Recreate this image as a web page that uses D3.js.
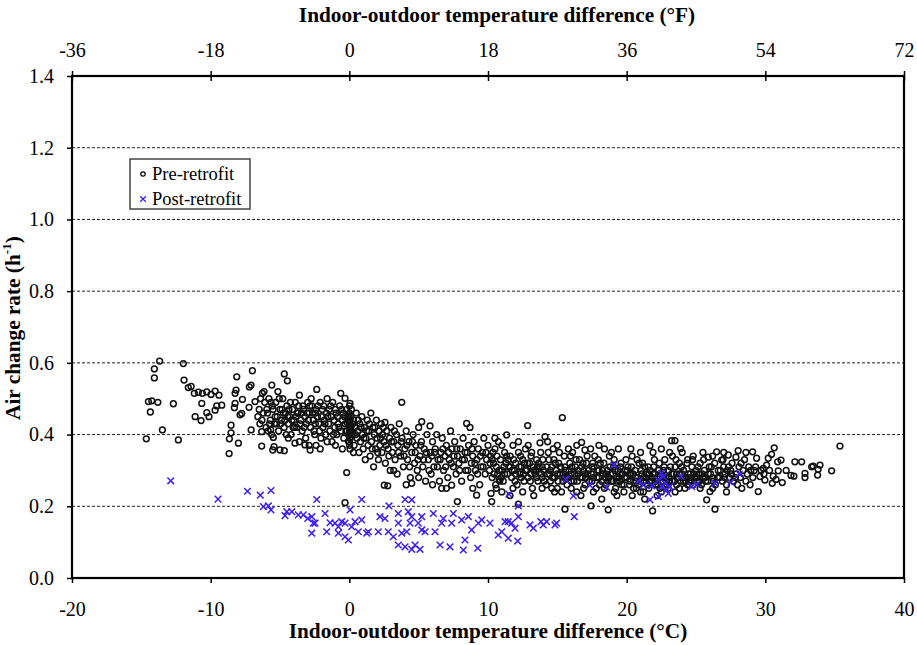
<!DOCTYPE html>
<html><head><meta charset="utf-8">
<script src="https://cdn.jsdelivr.net/npm/d3@7"></script>
<style>body{margin:0;background:#fff}svg{display:block}text{font-family:"Liberation Serif","Times New Roman",serif;fill:#000}</style>
</head><body><svg id="c" width="917" height="645"></svg>
<script>
const xTicksC=[-20,-10,0,10,20,30,40];
const xTicksF=[-36,-18,0,18,36,54,72];
const yTicks=[0,0.2,0.4,0.6,0.8,1.0,1.2,1.4];
const seriesNames=["Pre-retrofit","Post-retrofit"];
const preRetrofit=[
[-14.64,0.388],[-14.49,0.492],[-14.35,0.463],[-14.25,0.494],[-14.06,0.583],[-14.06,0.558],[-13.81,0.490],[-13.68,0.605],[-13.48,0.413],[-12.69,0.486],[-12.33,0.385],[-11.97,0.598],[-11.92,0.552],[-11.61,0.531],[-11.41,0.534],[-11.18,0.515],[-11.12,0.450],[-10.89,0.518],[-10.69,0.439],[-10.64,0.487],[-10.60,0.515],[-10.28,0.519],[-10.28,0.461],[-10.12,0.450],[-9.97,0.512],[-9.68,0.521],[-9.68,0.468],[-9.56,0.480],[-9.40,0.510],[-9.20,0.482],
[-8.67,0.347],[-8.65,0.388],[-8.53,0.426],[-8.53,0.405],[-8.29,0.475],[-8.24,0.515],[-8.24,0.487],[-8.17,0.524],[-8.12,0.561],[-8.00,0.376],[-7.88,0.455],[-7.76,0.459],[-7.71,0.498],[-7.23,0.476],[-7.21,0.533],[-7.09,0.538],[-7.08,0.413],[-6.99,0.578],[-6.80,0.492],[-6.32,0.408],[-6.32,0.368],[-6.27,0.515],[-5.67,0.413],[-5.59,0.538],[-5.52,0.357],[-5.48,0.392],[-5.43,0.366],[-5.00,0.357],[-4.69,0.569],[-4.69,0.355],[-4.47,0.550],[-4.40,0.390],[-3.92,0.376],[-3.20,0.371],[-2.83,0.357],
[-6.6,0.45],[-6.5,0.47],[-6.4,0.50],[-6.3,0.44],[-6.2,0.46],[-6.1,0.49],[-6.0,0.42],[-5.95,0.47],[-5.9,0.46],[-5.8,0.50],[-5.75,0.43],[-5.7,0.44],[-5.6,0.40],[-5.55,0.48],[-5.5,0.47],[-5.4,0.43],[-5.35,0.45],[-5.3,0.49],[-5.2,0.45],[-5.15,0.52],[-5.1,0.41],[-5.0,0.47],[-4.95,0.43],[-4.9,0.44],[-4.8,0.50],[-4.75,0.46],[-4.7,0.42],[-4.6,0.46],[-4.55,0.40],[-4.5,0.48],[-4.4,0.43],[-4.35,0.47],[-4.3,0.45],[-4.2,0.40],[-4.15,0.44],[-4.1,0.47],[-4.0,0.44],[-3.95,0.42],[-3.9,0.49],[-3.8,0.42],[-3.75,0.46],[-3.7,0.46],[-3.6,0.51],[-3.55,0.43],[-3.5,0.44],[-3.4,0.41],[-3.35,0.48],[-3.3,0.47],[-3.2,0.45],[-3.15,0.39],[-3.1,0.43],[-3.0,0.49],[-2.95,0.44],[-2.9,0.46],[-2.8,0.42],[-2.75,0.50],[-2.7,0.48],[-2.6,0.44],[-2.55,0.41],[-2.5,0.40],[-2.45,0.46],[-2.4,0.47],[-2.35,0.526],[-2.3,0.45],[-2.2,0.43],[-2.1,0.49],[-2.05,0.39],
[-2.0,0.45],[-1.9,0.42],[-1.85,0.48],[-1.8,0.44],[-1.7,0.40],[-1.65,0.46],[-1.6,0.50],[-1.5,0.43],[-1.45,0.47],[-1.4,0.41],[-1.3,0.45],[-1.25,0.38],[-1.2,0.49],[-1.1,0.44],[-1.05,0.42],[-1.0,0.47],[-0.9,0.40],[-0.85,0.45],[-0.8,0.43],[-0.7,0.48],[-0.62,0.515],[-0.6,0.41],[-0.5,0.44],[-0.45,0.46],[-0.4,0.39],[-0.31,0.501],[-0.3,0.43],[-0.2,0.47],[-0.19,0.294],[-0.15,0.41],[-0.1,0.45],[-0.05,0.38],[0.0,0.43],[0.0,0.40],[0.0,0.46],[0.02,0.37],[0.03,0.42],[0.05,0.487],[0.05,0.44],[0.06,0.39],[0.08,0.41],[0.1,0.45],[0.05,0.36],[-2.4,0.37],[-2.1,0.36],[-1.6,0.38],[-0.31,0.210],
[-6.45,0.43],[-6.15,0.52],[-5.85,0.41],[-5.65,0.49],[-5.25,0.43],[-5.05,0.50],[-4.85,0.47],[-4.65,0.44],[-4.45,0.45],[-4.25,0.49],[-4.05,0.42],[-3.85,0.45],[-3.65,0.48],[-3.45,0.46],[-3.25,0.42],[-3.05,0.46],[-2.85,0.48],[-2.65,0.46],[-2.45,0.43],[-2.25,0.48],[-2.15,0.41],[-1.95,0.47],[-1.75,0.43],[-1.55,0.45],[-1.35,0.48],[-1.15,0.40],[-0.95,0.46],[-0.75,0.42],[-0.55,0.47],[-0.35,0.45],[-0.25,0.41],[-0.12,0.43],[0.0,0.44],[0.01,0.48],[0.0,0.38],[0.02,0.41],[-0.02,0.45],[0.04,0.39],[0.12,0.42],[0.15,0.47],[0.25,0.43],[0.45,0.40],[0.65,0.44],[0.85,0.42],[1.05,0.39],[1.25,0.41],[-1.0,0.37],[-0.5,0.36],[0.3,0.35],[-3.6,0.38],[-2.9,0.37],
[0.2,0.40],[0.3,0.44],[0.35,0.37],[0.4,0.42],[0.5,0.46],[0.55,0.39],[0.6,0.41],[0.7,0.35],[0.75,0.43],[0.8,0.38],[0.9,0.45],[0.95,0.40],[1.0,0.36],[1.1,0.42],[1.15,0.33],[1.2,0.39],[1.3,0.44],[1.35,0.37],[1.4,0.41],[1.5,0.34],[1.55,0.46],[1.6,0.38],[1.7,0.42],[1.75,0.31],[1.8,0.40],[1.9,0.36],[1.95,0.44],[2.0,0.39],[2.1,0.33],[2.15,0.41],[2.2,0.37],[2.3,0.43],[2.35,0.35],[2.4,0.40],[2.5,0.38],[2.52,0.259],[2.57,0.434],[2.6,0.32],[2.7,0.41],[2.77,0.257],[2.8,0.36],[2.9,0.39],[2.95,0.30],
[3.0,0.42],[3.1,0.35],[3.2,0.38],[3.3,0.33],[3.4,0.40],[3.45,0.29],[3.5,0.37],[3.6,0.43],[3.7,0.34],[3.78,0.490],[3.8,0.39],[3.9,0.31],[4.0,0.36],[4.1,0.41],[4.2,0.33],[4.3,0.38],[4.4,0.28],[4.5,0.264],[4.5,0.35],[4.6,0.40],[4.7,0.32],[4.8,0.37],[4.9,0.30],[5.0,0.42],[5.1,0.34],[5.2,0.38],[5.22,0.436],[5.3,0.31],[5.4,0.36],[5.5,0.27],[5.6,0.40],[5.7,0.33],[5.82,0.424],[5.85,0.35],[5.9,0.29],[6.0,0.38],
[1.45,0.43],[1.65,0.36],[1.85,0.42],[2.05,0.35],[2.25,0.39],[2.45,0.42],[2.65,0.37],[2.85,0.34],[3.05,0.38],[3.25,0.41],[3.55,0.35],[3.75,0.38],[3.95,0.34],[4.15,0.37],[4.35,0.31],[4.55,0.38],[4.75,0.35],[4.95,0.33],[5.15,0.37],[5.35,0.33],[5.55,0.35],[5.75,0.30],[5.95,0.34],[6.15,0.35],[6.35,0.31],[6.55,0.33],[6.75,0.36],[6.95,0.31],[7.15,0.35],[7.35,0.32],[7.55,0.34],[7.75,0.36],[7.95,0.30],[8.15,0.33],[8.35,0.35],[8.55,0.30],[8.85,0.36],[9.05,0.32],[9.25,0.29],[9.45,0.34],[9.65,0.31],[9.85,0.35],[5.0,0.28],[6.0,0.26],[7.0,0.25],[8.9,0.25],[3.2,0.30],[4.1,0.26],
[6.1,0.31],[6.2,0.36],[6.3,0.40],[6.4,0.33],[6.5,0.27],[6.6,0.35],[6.66,0.250],[6.7,0.39],[6.8,0.30],[6.9,0.34],[7.0,0.37],[7.1,0.28],[7.2,0.33],[7.3,0.41],[7.38,0.259],[7.4,0.36],[7.5,0.31],[7.6,0.38],[7.7,0.29],[7.79,0.213],[7.8,0.34],[7.9,0.32],[8.0,0.36],[8.1,0.27],[8.2,0.39],[8.3,0.33],[8.4,0.30],[8.46,0.431],[8.5,0.35],[8.6,0.37],[8.7,0.420],[8.75,0.28],[8.8,0.32],[8.9,0.34],[9.0,0.38],[9.1,0.30],[9.18,0.231],[9.2,0.33],[9.3,0.36],[9.4,0.26],[9.5,0.31],[9.6,0.35],[9.7,0.39],[9.8,0.29],[9.9,0.33],[10.0,0.37],
[10.1,0.30],[10.2,0.34],[10.22,0.236],[10.27,0.213],[10.3,0.28],[10.4,0.32],[10.5,0.36],[10.55,0.26],[10.6,0.31],[10.7,0.29],[10.75,0.38],[10.81,0.275],[10.9,0.33],[11.0,0.30],[11.1,0.27],[11.2,0.35],[11.3,0.32],[11.35,0.399],[11.4,0.29],[11.5,0.31],[11.59,0.230],[11.6,0.34],[11.7,0.28],[11.8,0.37],[11.9,0.30],[12.0,0.32],[12.1,0.26],[12.19,0.206],[12.2,0.35],[12.3,0.29],[12.4,0.31],[12.5,0.33],[12.6,0.27],[12.7,0.36],[12.8,0.30],[12.86,0.425],[12.9,0.28],[13.0,0.32],[13.1,0.34],[13.2,0.25],[13.3,0.30],[13.4,0.29],[13.5,0.33],[13.6,0.27],[13.7,0.31],[13.75,0.377],[13.8,0.35],[13.9,0.28],[14.0,0.30],[14.11,0.394],[14.2,0.26],[10.3,0.33],[10.8,0.30],[11.2,0.29],[11.6,0.31],[12.0,0.29],[12.4,0.28],[12.7,0.30],[13.1,0.29],[13.5,0.28],[13.9,0.31],
[14.3,0.29],[14.4,0.33],[14.5,0.27],[14.6,0.31],[14.7,0.36],[14.8,0.28],[14.9,0.30],[15.0,0.25],[15.1,0.32],[15.2,0.29],[15.36,0.447],[15.4,0.27],[15.5,0.34],[15.55,0.192],[15.6,0.30],[15.7,0.26],[15.8,0.28],[15.9,0.32],[16.0,0.29],[16.1,0.35],[16.2,0.27],[16.3,0.31],[16.4,0.24],[16.5,0.29],[16.6,0.33],[16.75,0.378],[16.8,0.28],[16.9,0.30],[16.99,0.357],[17.0,0.26],[17.1,0.32],[17.2,0.29],[17.3,0.27],[17.43,0.201],[17.5,0.31],[17.6,0.28],[17.7,0.34],[17.8,0.25],[17.9,0.30],[18.0,0.28],[18.1,0.32],[18.2,0.27],[18.3,0.29],[18.4,0.36],[18.5,0.26],[18.6,0.30],[18.67,0.190],[18.7,0.28],[18.8,0.31],[18.9,0.27],[19.0,0.29],[19.1,0.33],[19.2,0.25],[19.3,0.28],[19.4,0.30],[19.5,0.27],[19.6,0.32],[19.7,0.29],[19.8,0.26],[19.9,0.30],[14.5,0.30],[15.0,0.29],[15.5,0.28],[16.0,0.27],[16.5,0.30],[17.0,0.29],[17.5,0.27],[18.0,0.30],[18.5,0.29],[19.0,0.27],[19.5,0.29],[14.8,0.24],[16.7,0.23],[18.2,0.22],[19.3,0.23],
[20.0,0.28],[20.1,0.31],[20.2,0.26],[20.3,0.29],[20.4,0.34],[20.5,0.27],[20.6,0.30],[20.7,0.25],[20.8,0.28],[20.9,0.32],[21.0,0.27],[21.1,0.29],[21.2,0.24],[21.3,0.31],[21.4,0.28],[21.5,0.26],[21.68,0.369],[21.7,0.30],[21.8,0.27],[21.87,0.187],[21.9,0.29],[22.0,0.33],[22.1,0.26],[22.2,0.28],[22.3,0.30],[22.4,0.25],[22.5,0.29],[22.6,0.27],[22.7,0.31],[22.8,0.28],[22.9,0.26],[23.0,0.30],[23.1,0.35],[23.24,0.383],[23.3,0.27],[23.4,0.29],[23.48,0.383],[23.5,0.31],[23.6,0.26],[23.7,0.28],[23.8,0.32],[23.89,0.361],[23.9,0.27],[24.0,0.29],[24.1,0.30],[24.2,0.25],[24.3,0.28],[24.4,0.33],[24.5,0.27],[24.6,0.29],[24.7,0.31],[24.8,0.26],[24.9,0.28],[20.2,0.29],[20.7,0.27],[21.2,0.28],[21.6,0.29],[22.1,0.27],[22.6,0.28],[23.1,0.27],[23.6,0.29],[24.1,0.27],[24.6,0.28],[20.4,0.23],[21.3,0.22],[22.2,0.23],[23.5,0.24],
[10.15,0.32],[10.45,0.29],[10.65,0.34],[10.95,0.28],[11.15,0.31],[11.45,0.33],[11.75,0.30],[11.95,0.27],[12.25,0.31],[12.55,0.29],[12.85,0.32],[13.05,0.27],[13.25,0.31],[13.45,0.30],[13.65,0.32],[13.85,0.29],[14.05,0.27],[14.25,0.31],[14.45,0.29],[14.65,0.28],[14.85,0.32],[15.05,0.27],[15.25,0.31],[15.45,0.29],[15.65,0.28],[15.85,0.30],[16.05,0.31],[16.25,0.29],[16.45,0.27],[16.65,0.28],[16.85,0.32],[17.05,0.28],[17.25,0.30],[17.45,0.29],[17.65,0.31],[17.85,0.28],[18.05,0.26],[18.25,0.30],[18.45,0.28],[18.65,0.27],[18.85,0.29],[19.05,0.31],[19.25,0.27],[19.45,0.28],[19.65,0.26],[19.85,0.28],[20.05,0.30],[20.25,0.27],[20.45,0.29],[20.65,0.28],[20.85,0.26],[21.05,0.30],[21.25,0.27],[21.45,0.29],[21.65,0.27],[21.85,0.28],[22.05,0.29],[22.25,0.26],[22.45,0.28],[22.65,0.30],[22.85,0.27],[23.05,0.28],[23.25,0.29],[23.45,0.27],[23.65,0.28],[23.85,0.29],[24.05,0.28],[24.25,0.27],[24.45,0.29],[24.65,0.27],[24.85,0.29],[25.05,0.28],[25.25,0.27],[25.45,0.29],[25.65,0.28],[25.85,0.27],[26.05,0.29],[26.25,0.27],[26.55,0.28],[26.75,0.30],[27.05,0.28],[27.25,0.30],[27.55,0.29],[27.85,0.28],
[10.35,0.35],[10.85,0.27],[11.35,0.34],[11.85,0.33],[12.35,0.34],[12.65,0.32],[13.15,0.35],[13.55,0.31],[13.95,0.33],[14.35,0.35],[14.75,0.33],[15.15,0.35],[15.55,0.31],[15.95,0.34],[16.35,0.33],[16.75,0.31],[17.15,0.34],[17.55,0.32],[17.95,0.33],[18.35,0.32],[18.75,0.34],[19.15,0.30],[19.55,0.31],[19.95,0.33],[20.35,0.31],[20.75,0.33],[21.15,0.32],[21.55,0.31],[21.95,0.31],[22.35,0.32],[22.75,0.33],[23.15,0.31],[23.55,0.33],[23.95,0.31],[24.35,0.32],[24.75,0.33],[25.15,0.31],[25.55,0.33],[25.95,0.31],[26.35,0.32],[26.95,0.33],[27.35,0.31],[28.25,0.32],[28.95,0.30],[29.3,0.31],[30.3,0.30],[31.5,0.30],[29.9,0.29],
[10.6,0.25],[11.0,0.24],[11.8,0.25],[12.5,0.24],[13.3,0.23],[13.9,0.25],[14.6,0.25],[15.3,0.24],[16.0,0.25],[16.9,0.25],[17.6,0.24],[18.4,0.25],[19.1,0.24],[19.8,0.24],[20.5,0.25],[21.0,0.24],[21.6,0.25],[22.5,0.24],[23.0,0.25],[23.8,0.25],[24.4,0.26],[25.3,0.25],[26.2,0.25],[27.2,0.24],[28.0,0.26],[28.9,0.26],
[10.5,0.39],[11.0,0.37],[12.2,0.38],[12.9,0.37],[14.3,0.38],[15.0,0.37],[15.8,0.36],[16.4,0.37],[17.4,0.36],[18.0,0.37],[18.9,0.35],[19.4,0.36],[20.3,0.36],[21.0,0.35],[21.9,0.35],[22.5,0.36],[23.3,0.34],[24.0,0.35],[24.8,0.34],[25.5,0.35],[26.2,0.34],[27.0,0.35],[28.6,0.35],
[25.0,0.30],[25.1,0.27],[25.2,0.29],[25.3,0.32],[25.4,0.26],[25.5,0.28],[25.6,0.30],[25.7,0.27],[25.77,0.218],[25.88,0.337],[25.9,0.29],[26.01,0.241],[26.1,0.31],[26.2,0.28],[26.37,0.192],[26.4,0.26],[26.49,0.352],[26.6,0.30],[26.7,0.28],[26.85,0.329],[26.9,0.27],[27.0,0.31],[27.1,0.29],[27.2,0.26],[27.33,0.343],[27.4,0.28],[27.5,0.30],[27.6,0.32],[27.7,0.27],[27.88,0.337],[27.9,0.29],[28.04,0.355],[28.1,0.31],[28.2,0.28],[28.3,0.25],[28.4,0.30],[28.5,0.33],[28.6,0.27],[28.7,0.29],[28.8,0.31],[29.08,0.352],[29.1,0.28],[29.2,0.30],[29.37,0.334],[29.49,0.241],[29.61,0.283],[29.7,0.30],[29.85,0.306],[29.97,0.273],[30.09,0.315],[30.21,0.334],
[30.45,0.345],[30.50,0.264],[30.57,0.284],[30.64,0.363],[30.77,0.275],[30.89,0.324],[30.93,0.299],[31.13,0.329],[31.22,0.266],[31.85,0.286],[32.06,0.284],[32.13,0.324],[32.62,0.324],[32.86,0.292],[32.86,0.280],[33.34,0.310],[33.45,0.312],[33.77,0.287],[33.81,0.303],[33.94,0.315],[34.78,0.299],[35.38,0.368]
];
const postRetrofit=[
[-12.88,0.271],[-9.47,0.220],[-7.35,0.242],[-6.42,0.231],[-5.65,0.244],[-6.20,0.199],[-5.84,0.201],[-5.65,0.190],[-4.64,0.174],[-4.51,0.185],[-4.15,0.185],[-3.68,0.176],[-3.32,0.176],[-3.00,0.166],[-2.71,0.171],[-2.60,0.153],[-2.71,0.125],
[-2.35,0.219],[-2.47,0.153],[-1.75,0.180],[-1.63,0.129],[-1.39,0.154],[-1.03,0.153],[-0.79,0.143],[-0.55,0.157],[-0.31,0.153],[-0.79,0.125],[-0.31,0.115],[-0.07,0.106],[0.17,0.143],[0.41,0.157],[0.05,0.190],[0.65,0.129],[0.89,0.162],[1.25,0.125],[1.37,0.129],[0.89,0.219],[2.09,0.129],[2.21,0.171],[2.57,0.166],[2.86,0.201],[2.81,0.129],[3.17,0.115],
[3.53,0.180],[3.53,0.153],[3.78,0.125],[4.14,0.129],[4.25,0.185],[4.50,0.171],[4.02,0.219],[4.50,0.218],[4.38,0.153],[3.53,0.092],[4.02,0.087],[4.50,0.080],[5.10,0.080],[4.74,0.092],[4.97,0.153],[5.22,0.134],[5.46,0.129],[5.22,0.171],[6.06,0.180],[6.18,0.129],[6.54,0.092],[6.66,0.153],[6.78,0.166],[7.50,0.180],[7.38,0.153],[7.26,0.087],[8.10,0.162],[8.22,0.078],[8.34,0.106],[8.82,0.134],[8.58,0.171],[9.30,0.153],[9.26,0.083],[9.55,0.162],[10.14,0.153],[10.74,0.120],[10.99,0.129],
[11.23,0.157],[11.46,0.157],[11.71,0.153],[12.19,0.171],[12.19,0.201],[11.95,0.139],[13.03,0.148],[13.27,0.139],[13.82,0.157],[13.99,0.148],[14.23,0.157],[14.83,0.148],[14.95,0.153],[16.22,0.171],[11.46,0.111],[12.14,0.103],[11.51,0.234],
[15.62,0.275],[16.15,0.229],[17.35,0.259],[18.56,0.253],[19.08,0.315],[20.84,0.269],[21.20,0.259],[21.68,0.218],[21.80,0.257],[22.28,0.273],[22.52,0.292],[22.64,0.283],[22.76,0.264],[22.88,0.245],[23.00,0.236],[22.52,0.255],[22.28,0.227],[23.12,0.255],[23.91,0.283],[24.69,0.255],[25.05,0.261],[26.37,0.264],[27.52,0.267],[28.12,0.290]
];

const svg=d3.select("#c");
const x=d3.scaleLinear().domain([-20,40]).range([72,904]);
const xF=d3.scaleLinear().domain([-36,72]).range([72,904]);
const y=d3.scaleLinear().domain([0,1.4]).range([578,76]);
const FS=20, TS=21.3;

// gridlines
svg.append("g").selectAll("line").data(yTicks.filter(d=>d>0&&d<1.4)).join("line")
  .attr("x1",x(-20)).attr("x2",x(40)).attr("y1",d=>y(d)).attr("y2",d=>y(d))
  .attr("stroke","#222").attr("stroke-width",1).attr("stroke-dasharray","3,2");

// points
const gp=svg.append("g");
gp.selectAll("circle").data(preRetrofit).join("circle")
  .attr("cx",d=>x(d[0])).attr("cy",d=>y(d[1])).attr("r",2.9)
  .attr("fill","none").attr("stroke","#111").attr("stroke-width",1.5);
const blue="#3d1ff2";
const s=3.3;
gp.selectAll("path.px").data(postRetrofit).join("path").attr("class","px")
  .attr("d",d=>{const cx=x(d[0]),cy=y(d[1]);return `M${cx-s},${cy-s}L${cx+s},${cy+s}M${cx-s},${cy+s}L${cx+s},${cy-s}`;})
  .attr("stroke",blue).attr("stroke-width",1.5).attr("fill","none");

// axes
const ax=svg.append("g").attr("class","axes");
const gl=ax.append("g").attr("transform","translate(72,0)")
  .call(d3.axisLeft(y).tickValues(yTicks).tickSize(5).tickPadding(13).tickFormat(d3.format(".1f")));
const gb=ax.append("g").attr("transform","translate(0,578)")
  .call(d3.axisBottom(x).tickValues(xTicksC).tickSize(5).tickPadding(19).tickFormat(d3.format("d")));
const gt=ax.append("g").attr("transform","translate(0,76)")
  .call(d3.axisTop(xF).tickValues(xTicksF).tickSize(5).tickPadding(14).tickFormat(d3.format("d")));
gt.selectAll(".tick line").attr("y1",5);
[gl,gb,gt].forEach(g=>{
  g.select(".domain").remove();
  g.selectAll(".tick line").attr("stroke","#000").attr("stroke-width",1.5);
  g.selectAll(".tick text").attr("font-size",FS);
});
gl.selectAll(".tick text").text(d=>d3.format(".1f")(d));
gb.selectAll(".tick text").text(d=>d<0?"-"+Math.abs(d):d);
gt.selectAll(".tick text").text(d=>d<0?"-"+Math.abs(d):d);
// frame
svg.append("rect").attr("x",x(-20)).attr("y",y(1.4)).attr("width",x(40)-x(-20)).attr("height",y(0)-y(1.4))
  .attr("fill","none").attr("stroke","#000").attr("stroke-width",2.2);

// titles
svg.append("text").attr("x",488).attr("y",638).attr("text-anchor","middle").attr("font-size",TS).attr("font-weight","bold")
  .text("Indoor-outdoor temperature difference (°C)");
svg.append("text").attr("x",497).attr("y",22).attr("text-anchor","middle").attr("font-size",TS).attr("font-weight","bold")
  .text("Indoor-outdoor temperature difference (°F)");
const yt=svg.append("text").attr("transform","translate(20,420) rotate(-90)").attr("text-anchor","start")
  .attr("font-size",TS).attr("font-weight","bold");
yt.append("tspan").text("Air change rate (h");
yt.append("tspan").attr("font-size",13).attr("dy",-9).text("-1");
yt.append("tspan").attr("dy",9).text(")");

// legend
const lg=svg.append("g");
lg.append("rect").attr("x",130).attr("y",159).attr("width",120).attr("height",50)
  .attr("fill","#fff").attr("stroke","#444").attr("stroke-width",1.5);
lg.append("circle").attr("cx",143).attr("cy",174).attr("r",2.2).attr("fill","none").attr("stroke","#000").attr("stroke-width",1.2);
lg.append("text").attr("x",152).attr("y",180).attr("font-size",18.5).text(seriesNames[0]);
const lx=143,ly=199,ls=2.8;
lg.append("path").attr("d",`M${lx-ls},${ly-ls}L${lx+ls},${ly+ls}M${lx-ls},${ly+ls}L${lx+ls},${ly-ls}`).attr("stroke",blue).attr("stroke-width",1.3);
lg.append("text").attr("x",152).attr("y",205).attr("font-size",18.5).text(seriesNames[1]);
</script></body></html>
